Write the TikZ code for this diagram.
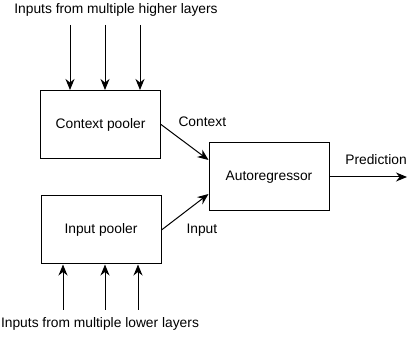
\documentclass[tikz,border=0pt]{standalone}
\usepackage{fontspec}
\setmainfont{Liberation Sans}
\usetikzlibrary{arrows.meta}
\begin{document}
\begin{tikzpicture}[x=1pt,y=1pt,
    box/.style={shape=rectangle,draw=black,line width=1pt,minimum width=120pt,minimum height=68pt},
    arr/.style={-{Stealth[length=11pt,width=9pt,inset=3.5pt]},draw=black,line width=1pt},
    lbl/.style={font=\fontsize{13.8}{16}\selectfont}]
                \useasboundingbox (0,0) rectangle (409,339);

                \node[box,lbl] (ctx) at (100.5,214.5) {Context pooler};
                \node[box,lbl] (inp) at (101,109) {Input pooler};
                \node[box,lbl] (ar) at (269,162) {Autoregressor};

                \node[lbl] (higher) at (116,329) {Inputs from multiple higher layers};
                \node[lbl] (lower) at (100,15) {Inputs from multiple lower layers};
                \node[lbl,anchor=west] (ctxlbl) at (175,217) {Context};
                \node[lbl,anchor=west] (inplbl) at (183,109) {Input};
                \node[lbl] (predlbl) at (376,179) {Prediction};

                \coordinate (h1) at (70,314);
                \coordinate (h2) at (105,314);
                \coordinate (h3) at (140,314);
                \coordinate (l1) at (63,29);
                \coordinate (l2) at (105,29);
                \coordinate (l3) at (138,29);
                \coordinate (pred) at (407,162);

                \path [arr] (h1) -- (h1 |- ctx.north);
                \path [arr] (h2) -- (h2 |- ctx.north);
                \path [arr] (h3) -- (h3 |- ctx.north);
                \path [arr] (l1) -- (l1 |- inp.south);
                \path [arr] (l2) -- (l2 |- inp.south);
                \path [arr] (l3) -- (l3 |- inp.south);

                \path [arr] (ctx.east) -- ([yshift=17pt]ar.west);
                \path [arr] (inp.east) -- ([yshift=-17pt]ar.west);
                \path [arr] (ar.east) -- (pred);
            \end{tikzpicture}
\end{document}
